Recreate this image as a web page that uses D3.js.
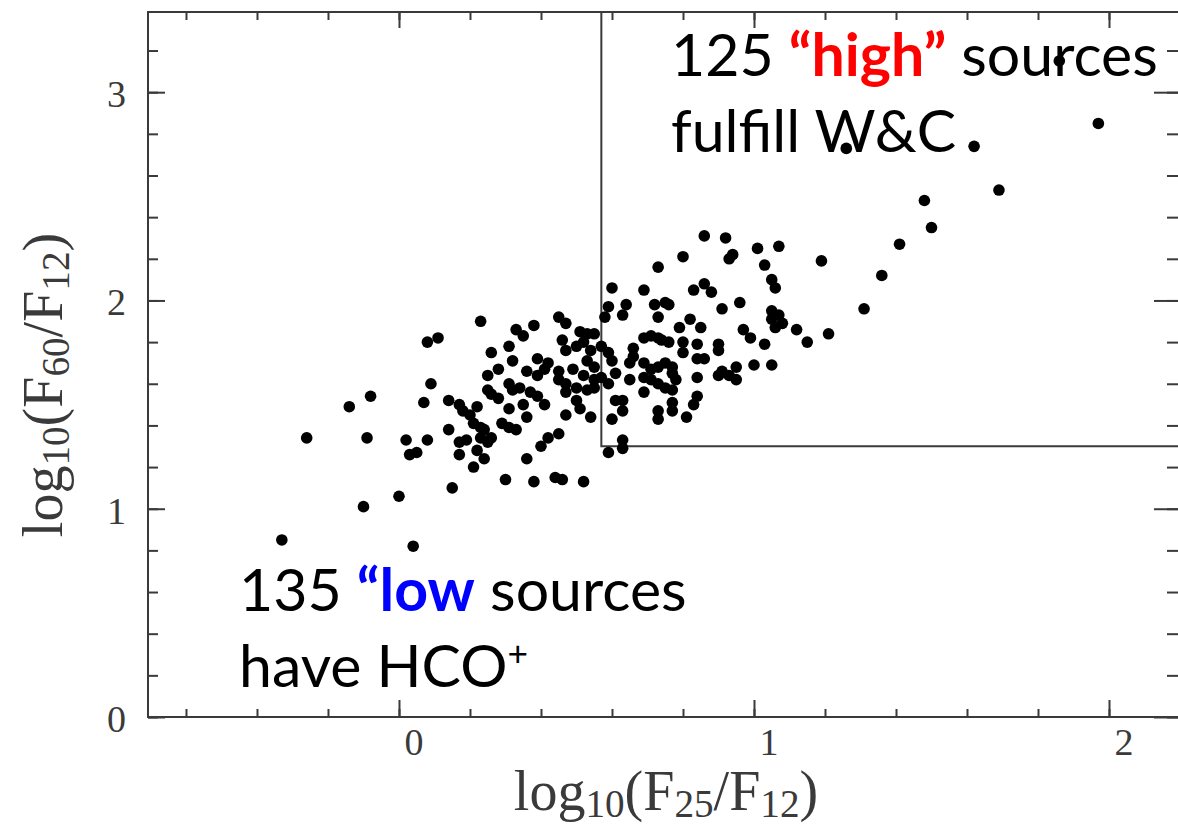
<!DOCTYPE html>
<html>
<head>
<meta charset="utf-8">
<script src="https://cdn.jsdelivr.net/npm/d3@7"></script>
<style>
  body { margin: 0; background: #fff; }
</style>
</head>
<body>
<div id="chart"></div>
<script>
// log10(F25/F12) of each source
const logF25F12 = [
  -0.33, -0.26, -0.14, -0.08, -0.09, -0.10, 0.00, 0.04, 0.02, 0.08,
  0.03, 0.05, 0.09, 0.07, 0.14, 0.15, 0.08, 0.11, 0.23, 0.33,
  0.35, 0.38, 0.45, 0.26, 0.31, 0.32, 0.28, 0.25, 0.14, 0.17,
  0.18, 0.20, 0.22, 0.25, 0.26, 0.28, 0.17, 0.19, 0.23, 0.25,
  0.26, 0.17, 0.22, 0.24, 0.21, 0.30, 0.38, 0.44, 0.46, 0.52,
  0.36, 0.40, 0.42, 0.45, 0.47, 0.51, 0.54, 0.29, 0.31, 0.33,
  0.31, 0.35, 0.36, 0.31, 0.32, 0.34, 0.36, 0.39, 0.41, 0.39,
  0.42, 0.37, 0.39, 0.41, 0.45, 0.47, 0.50, 0.53, 0.55, 0.47,
  0.50, 0.46, 0.47, 0.50, 0.52, 0.54, 0.47, 0.51, 0.53, 0.53,
  0.55, 0.49, 0.52, 0.55, 0.57, 0.55, 0.57, 0.45, 0.24, 0.21,
  0.23,
  0.59, 0.58, 0.64, 0.63, 0.60, 0.69, 0.72, 0.75, 0.76, 0.73,
  0.73, 0.80, 0.86, 0.92, 0.93, 0.94, 1.01, 1.07, 1.03, 0.83,
  0.86, 0.88, 1.05, 1.06, 0.96, 0.91, 1.05, 1.07, 1.05, 1.08,
  1.06, 0.79, 0.82, 0.85, 0.97, 0.99, 1.03, 0.69, 0.71, 0.73,
  0.74, 0.76, 0.66, 0.66, 0.65, 0.80, 0.80, 0.84, 0.84, 0.86,
  0.90, 0.90, 1.00, 1.05, 0.90, 0.91, 0.93, 0.95, 0.95, 0.84,
  0.69, 0.71, 0.73, 0.75, 0.77, 0.77, 0.78, 0.69, 0.71, 0.73,
  0.65, 0.59, 0.60, 0.61, 0.59, 0.69, 0.75, 0.77, 0.61, 0.63,
  0.63, 0.73, 0.73, 0.77, 0.77, 0.84, 0.83, 0.81, 0.60, 0.63,
  0.63, 0.59, 1.12, 1.15, 1.21, 1.19, 1.31, 1.36, 1.41, 1.48,
  1.50, 1.69, 1.62, 1.26, 1.97, 1.86
]

// log10(F60/F12) of the same sources
const logF60F12 = [
  0.85, 1.34, 1.49, 1.54, 1.34, 1.01, 1.06, 0.82, 1.33, 1.33,
  1.26, 1.27, 1.60, 1.51, 1.38, 1.10, 1.80, 1.82, 1.90, 1.86,
  1.83, 1.88, 1.92, 1.75, 1.78, 1.71, 1.67, 1.64, 1.52, 1.50,
  1.47, 1.45, 1.49, 1.57, 1.55, 1.53, 1.32, 1.33, 1.34, 1.32,
  1.34, 1.26, 1.28, 1.24, 1.20, 1.14, 1.13, 1.15, 1.14, 1.13,
  1.24, 1.30, 1.34, 1.36, 1.45, 1.48, 1.44, 1.41, 1.39, 1.38,
  1.48, 1.50, 1.44, 1.60, 1.57, 1.58, 1.66, 1.64, 1.67, 1.72,
  1.70, 1.56, 1.54, 1.50, 1.62, 1.60, 1.58, 1.57, 1.58, 1.56,
  1.52, 1.81, 1.76, 1.78, 1.80, 1.76, 1.89, 1.85, 1.84, 1.71,
  1.68, 1.67, 1.64, 1.62, 1.63, 1.84, 1.78, 1.66, 1.38, 1.41,
  1.39,
  1.97, 1.92, 1.98, 1.93, 2.06, 2.05, 1.98, 1.99, 1.98, 1.92,
  2.16, 2.21, 2.31, 2.30, 2.20, 2.22, 2.25, 2.26, 2.17, 2.05,
  2.08, 2.04, 2.10, 2.06, 1.99, 1.96, 1.95, 1.93, 1.91, 1.89,
  1.87, 1.87, 1.91, 1.87, 1.86, 1.82, 1.79, 1.82, 1.83, 1.82,
  1.81, 1.80, 1.77, 1.73, 1.70, 1.80, 1.75, 1.79, 1.72, 1.72,
  1.79, 1.76, 1.69, 1.69, 1.64, 1.66, 1.64, 1.68, 1.62, 1.63,
  1.70, 1.67, 1.68, 1.70, 1.68, 1.65, 1.62, 1.63, 1.62, 1.60,
  1.62, 1.75, 1.71, 1.65, 1.60, 1.56, 1.58, 1.57, 1.52, 1.52,
  1.47, 1.47, 1.43, 1.51, 1.47, 1.54, 1.50, 1.44, 1.43, 1.33,
  1.29, 1.27, 1.86, 1.80, 1.84, 2.19, 1.96, 2.12, 2.27, 2.48,
  2.35, 2.53, 2.74, 2.73, 2.85, 3.15
]

// tick values
const xMajorTicks = [0, 1, 2]
const yMajorTicks = [0, 1, 2, 3]
const xMinorTicks = d3.range(-3, 12).map(i => i / 5)
const yMinorTicks = d3.range(0, 17).map(i => i / 5)

// Wood & Churchwell cut: log(F25/F12) >= 0.57, log(F60/F12) >= 1.3
const wcCut = { x: 0.57, y: 1.3 }

// Canvas
const width = 1178,
    height = 832,
    plotLeft = 148,
    plotRight = 1180,
    plotTop = 12,
    plotBottom = 717

const ink = '#3a3a3a'

let svg = d3.select('#chart')
    .append('svg')
    .attr('width', width)
    .attr('height', height)
    .style('background', '#fff')

const x = d3.scaleLinear().domain([-0.707, 2.2]).range([plotLeft, plotRight])
const y = d3.scaleLinear().domain([0, 3.385]).range([plotBottom, plotTop])

// ticks on all four sides, pointing inwards
let addAxis = (axis, transform, values, size) => {
    let g = svg.append('g')
        .attr('transform', transform)
        .call(axis.tickValues(values).tickSize(size).tickSizeOuter(0).tickFormat(''))
    g.select('.domain').remove()
    g.selectAll('line').attr('stroke', ink).attr('stroke-width', 2)
    return g
}

addAxis(d3.axisBottom(x), `translate(0,${plotBottom})`, xMinorTicks, -8)
addAxis(d3.axisBottom(x), `translate(0,${plotBottom})`, xMajorTicks, -17)
addAxis(d3.axisTop(x), `translate(0,${plotTop})`, xMinorTicks, -8)
addAxis(d3.axisTop(x), `translate(0,${plotTop})`, xMajorTicks, -16)
addAxis(d3.axisLeft(y), `translate(${plotLeft},0)`, yMinorTicks, -10)
addAxis(d3.axisLeft(y), `translate(${plotLeft},0)`, yMajorTicks, -17)
addAxis(d3.axisRight(y), `translate(${plotRight},0)`, yMinorTicks, -13)
addAxis(d3.axisRight(y), `translate(${plotRight},0)`, yMajorTicks, -26)

// frame
svg.append('rect')
    .attr('x', plotLeft).attr('y', plotTop)
    .attr('width', plotRight - plotLeft).attr('height', plotBottom - plotTop)
    .attr('fill', 'none')
    .attr('stroke', ink)
    .attr('stroke-width', 2)

// tick labels
svg.selectAll('text.xlab')
    .data(xMajorTicks)
    .enter()
    .append('text')
    .attr('class', 'xlab')
    .attr('x', d => x(d) + 15)
    .attr('y', plotBottom + 38)
    .attr('text-anchor', 'middle')
    .style('font-family', '"Liberation Serif", serif')
    .style('font-size', '38px')
    .attr('fill', ink)
    .text(d => d)

svg.selectAll('text.ylab')
    .data(yMajorTicks)
    .enter()
    .append('text')
    .attr('class', 'ylab')
    .attr('x', 126)
    .attr('y', d => y(d) + 15)
    .attr('text-anchor', 'end')
    .style('font-family', '"Liberation Serif", serif')
    .style('font-size', '38px')
    .attr('fill', ink)
    .text(d => d)

// axis titles
let title = (sel, parts) => {
    parts.forEach(p => {
        sel.append('tspan')
            .attr('baseline-shift', p.sub ? '-18%' : null)
            .style('font-size', p.sub ? '70%' : null)
            .text(p.t)
    })
}

let xTitle = svg.append('text')
    .attr('x', 666)
    .attr('y', 810)
    .attr('text-anchor', 'middle')
    .style('font-family', '"Liberation Serif", serif')
    .style('font-size', '56px')
    .attr('fill', ink)
title(xTitle, [{ t: 'log' }, { t: '10', sub: true }, { t: '(F' }, { t: '25', sub: true },
    { t: '/F' }, { t: '12', sub: true }, { t: ')' }])

let yTitle = svg.append('text')
    .attr('transform', 'translate(62,385) rotate(-90)')
    .attr('text-anchor', 'middle')
    .style('font-family', '"Liberation Serif", serif')
    .style('font-size', '56px')
    .attr('fill', ink)
title(yTitle, [{ t: 'log' }, { t: '10', sub: true }, { t: '(F' }, { t: '60', sub: true },
    { t: '/F' }, { t: '12', sub: true }, { t: ')' }])

// W&C selection box
svg.append('path')
    .attr('d', `M${x(wcCut.x)},${plotTop} V${y(wcCut.y)} H${plotRight}`)
    .attr('fill', 'none')
    .attr('stroke', ink)
    .attr('stroke-width', 2)

// sources
svg.selectAll('circle')
    .data(logF25F12.map((d, i) => [d, logF60F12[i]]))
    .enter()
    .append('circle')
    .attr('cx', d => x(d[0]))
    .attr('cy', d => y(d[1]))
    .attr('r', 5.8)
    .attr('fill', '#000')

// annotations
let note = (px, py, runs) => {
    let t = svg.append('text')
        .attr('x', px)
        .attr('y', py)
        .style('font-family', 'Lato, sans-serif')
        .style('font-size', '59px')
        .attr('fill', '#000')
    runs.forEach(r => {
        t.append('tspan')
            .attr('fill', r.color || '#000')
            .style('font-weight', r.bold ? 'bold' : 'normal')
            .attr('baseline-shift', r.sup ? 'super' : null)
            .style('font-size', r.sup ? '60%' : null)
            .text(r.t)
    })
}

note(671, 76, [{ t: '125 ' }, { t: '\u201chigh\u201d', color: '#ff0000', bold: true }, { t: ' sources' }])
note(671, 152, [{ t: 'fulfill W&C' }])
note(239, 611, [{ t: '135 ' }, { t: '\u201clow', color: '#0000ff', bold: true }, { t: ' sources' }])
note(239, 687, [{ t: 'have HCO' }, { t: '+', sup: true }])
</script>
</body>
</html>
